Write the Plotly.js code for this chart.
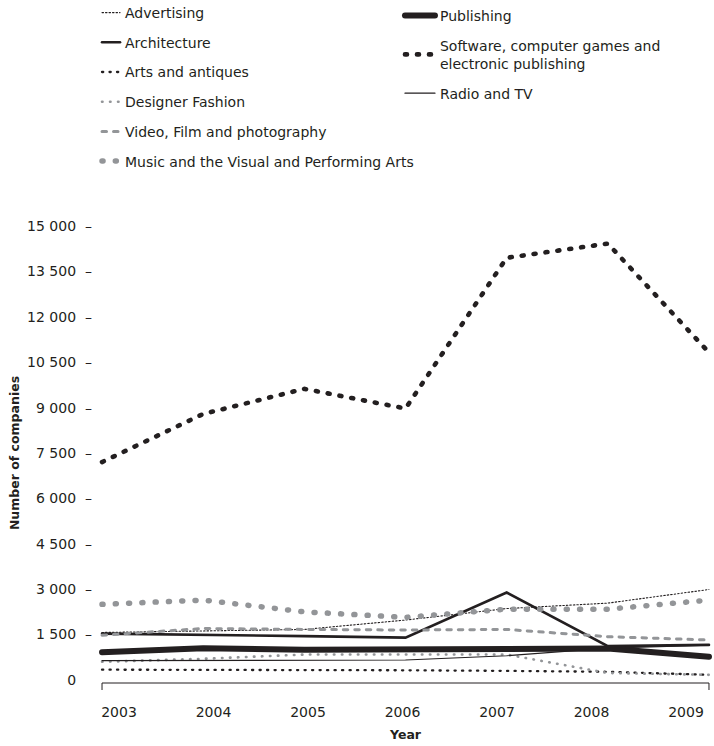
<!DOCTYPE html>
<html>
<head>
<meta charset="utf-8">
<script src="https://cdn.plot.ly/plotly-3.0.1.min.js"></script>
<style>
  html, body { margin: 0; padding: 0; background: #fff; }
  #chart { width: 714px; height: 746px; }
  .js-line { stroke-linecap: round; }
</style>
</head>
<body>
<div id="chart"></div>
<script>
// ---- data ----
var years = [2003, 2004, 2005, 2006, 2007, 2008, 2009];
var yearLabels = ["2003", "2004", "2005", "2006", "2007", "2008", "2009"];

var advertising = [1570, 1630, 1670, 1980, 2360, 2540, 2990];
var architecture = [1530, 1500, 1450, 1400, 2890, 1120, 1160];
var artsAntiques = [340, 340, 330, 320, 300, 270, 170];
var designerFashion = [600, 700, 840, 850, 840, 230, 170];
var videoFilm = [1480, 1700, 1670, 1650, 1670, 1430, 1320];
var musicArts = [2500, 2640, 2250, 2070, 2340, 2340, 2640];
var publishing = [920, 1050, 1000, 1000, 1040, 1040, 770];
var software = [7200, 8790, 9620, 8970, 13950, 14420, 10820];
var radioTV = [640, 650, 650, 660, 800, 1050, 1150];

var yTickVals = [0, 1500, 3000, 4500, 6000, 7500, 9000, 10500, 12000, 13500, 15000];
var yTickText = ["0", "1 500", "3 000", "4 500", "6 000", "7 500", "9 000", "10 500", "12 000", "13 500", "15 000"];

// ---- styling ----
var BLACK = "#231f20";
var GREY = "#939598";
var FONT = "DejaVu Sans, sans-serif";

function tr(name, vals, color, width, dash, legend, group) {
  return {
    type: "scatter", mode: "lines", name: name,
    x: years, y: vals,
    line: { color: color, width: width, dash: dash },
    legend: legend, legendgroup: group,
    hoverinfo: "skip"
  };
}

var data = [
  tr("Advertising", advertising, BLACK, 1.1, "1.5px,2px", "legend", "g1"),
  tr("Architecture", architecture, BLACK, 2.6, "solid", "legend", "g2"),
  tr("Arts and antiques", artsAntiques, BLACK, 2.3, "1.2px,6.3px", "legend", "g3"),
  tr("Designer Fashion", designerFashion, GREY, 2.6, "0.5px,7.5px", "legend", "g4"),
  tr("Video, Film and photography", videoFilm, GREY, 3, "4.5px,7px", "legend", "g5"),
  tr("Music and the Visual and Performing Arts", musicArts, GREY, 5.5, "1px,12.3px", "legend", "g6"),
  tr("Publishing", publishing, BLACK, 6, "solid", "legend2", "g7"),
  tr("Software, computer games and<br>electronic publishing", software, BLACK, 4.6, "2px,10px", "legend2", "g8"),
  tr("Radio and TV", radioTV, BLACK, 1.2, "solid", "legend2", "g9")
];

var ytt = yTickText.map(function (t) {
  return t === "0" ? "0<span style='color:rgba(0,0,0,0)'>\u00a0\u00a0\u2013</span>" : t + "\u00a0\u00a0\u2013";
});

// year labels are spread evenly between the two end ticks (as in the original print)
var xLabelPos = years.map(function (y, i) { return years[0] + 0.168 + i * 0.9342; });

var layout = {
  width: 714, height: 746,
  margin: { l: 99, r: 2, t: 222, b: 63 },
  paper_bgcolor: "#fff", plot_bgcolor: "#fff",
  font: { family: FONT, size: 14, color: BLACK },
  showlegend: true,
  xaxis: {
    range: [2002.97, 2009.03],
    tickvals: xLabelPos, ticktext: yearLabels,
    showgrid: false, zeroline: false, showline: false, ticks: "",
    ticklabelstandoff: 19,
    tickfont: { family: FONT, size: 14, color: BLACK },
    title: { text: "<b>Year</b>", font: { family: FONT, size: 12.5, color: BLACK }, standoff: 11 }
  },
  yaxis: {
    range: [-100, 15100],
    tickvals: yTickVals, ticktext: ytt,
    showgrid: false, zeroline: false, showline: false, ticks: "",
    ticklabelstandoff: 6,
    tickfont: { family: FONT, size: 14, color: BLACK },
    title: { text: "<b>Number of companies</b>", font: { family: FONT, size: 12.5, color: BLACK }, standoff: 4 }
  },
  legend: {
    x: -0.0228, xanchor: "left", y: 1.4816, yanchor: "top",
    orientation: "v", tracegroupgap: 8.5, itemwidth: 30,
    font: { family: FONT, size: 14, color: BLACK },
    bgcolor: "rgba(0,0,0,0)"
  },
  legend2: {
    x: 0.491, xanchor: "left", y: 1.4816, yanchor: "top",
    orientation: "v", tracegroupgap: 8.5, itemwidth: 30,
    font: { family: FONT, size: 14, color: BLACK },
    bgcolor: "rgba(0,0,0,0)"
  },
  shapes: [
    { type: "line", xref: "x", yref: "paper", x0: years[0], x1: years[years.length - 1], y0: 0, y1: 0,
      line: { color: BLACK, width: 1 } },
    { type: "line", xref: "x", yref: "paper", ysizemode: "pixel", yanchor: 0,
      x0: years[0], x1: years[0], y0: 0, y1: -7, line: { color: BLACK, width: 1 } },
    { type: "line", xref: "x", yref: "paper", ysizemode: "pixel", yanchor: 0,
      x0: years[years.length - 1], x1: years[years.length - 1], y0: 0, y1: -7, line: { color: BLACK, width: 1 } }
  ]
};

Plotly.newPlot("chart", data, layout, { displayModeBar: false, staticPlot: true }).then(function (gd) {
  gd.querySelectorAll(".legend").forEach(function (lg) {
    var isSecond = lg.classList.contains("legend2");
    // shorter legend keys, as in the original
    lg.querySelectorAll(".legendlines path").forEach(function (p) {
      p.setAttribute("d", isSecond ? "M12,0h23" : "M17,0h18");
    });
    // the original legend sits a few pixels closer to the top edge
    var t = lg.getAttribute("transform") || "";
    var m = /translate\(\s*([-\d.]+)[ ,]+([-\d.]+)\s*\)/.exec(t);
    if (m) lg.setAttribute("transform", "translate(" + m[1] + "," + (parseFloat(m[2]) - 3) + ")");
  });
});
</script>
</body>
</html>
